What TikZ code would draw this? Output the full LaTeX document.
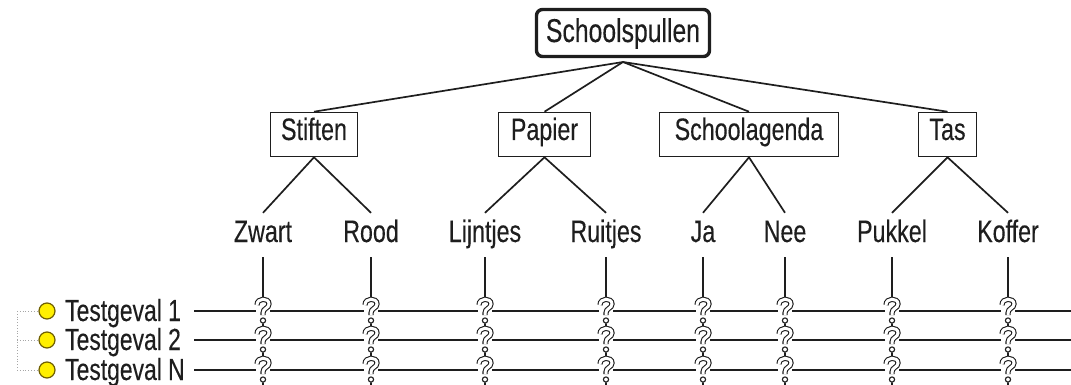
\documentclass[tikz,border=0pt]{standalone}
\usepackage{fontspec}
\setmainfont{Liberation Sans}[FakeStretch=0.75, FakeBold=0.25]
\definecolor{ink}{HTML}{1E1E1E}
\definecolor{bulb}{HTML}{FFEF00}
\definecolor{bulbedge}{HTML}{6E5E00}
\tikzset{
  every node/.style={text=ink},
  rootbox/.style={draw=ink, line width=3.4pt, rounded corners=6pt, inner xsep=0pt, inner ysep=0pt,
    minimum height=47pt, text height=24pt, text depth=6pt, font=\fontsize{33}{38}\selectfont},
  catbox/.style={draw=ink, line width=1.6pt, inner xsep=0pt, inner ysep=0pt, minimum height=44pt,
    text height=22pt, text depth=11pt, font=\fontsize{31}{36}\selectfont},
  leaf/.style={inner xsep=0pt, inner ysep=7pt, text height=22pt, text depth=8pt,
    font=\fontsize{31}{36}\selectfont},
  link/.style={draw=ink, line width=1.7pt},
  rowline/.style={draw=ink, line width=2pt},
  tclabel/.style={anchor=base west, inner sep=0pt, font=\fontsize{30.5}{34}\selectfont},
  bulbnode/.style={circle, fill=bulb, draw=bulbedge, line width=1.2pt, minimum size=16pt, inner sep=0pt},
  treeline/.style={draw=gray!70, dotted, line width=0.8pt},
  qline/.style={draw=ink, line width=1.1pt, double=white, double distance=3pt},
  qmark/.pic={
    \fill[white] (0,0) ellipse [x radius=7pt, y radius=12.5pt];
    \draw[qline] (-6,-6) .. controls (-6,-13.5) and (6,-13.5) .. (6,-7)
                         .. controls (6,-2.5) and (0,-3) .. (0,2) -- (0,4);
    \draw[draw=ink, fill=white, line width=1.1pt] (0,9.5) circle [radius=2.6pt];
  }
}
\begin{document}
\begin{tikzpicture}[x=1pt, y=-1pt]
\useasboundingbox (0,0) rectangle (1071,385);

% root
\node[rootbox, minimum width=173pt] (root) at (623,33) {Schoolspullen};
\coordinate (hub) at (623,62);

% categories
\node[catbox, minimum width=87pt]  (stiften) at (314,134.5) {Stiften};
\node[catbox, minimum width=92pt]  (papier)  at (544.5,134.5) {Papier};
\node[catbox, minimum width=179pt] (agenda)  at (749,134.5) {Schoolagenda};
\node[catbox, minimum width=58pt]  (tas)     at (947.5,134.5) {Tas};

\foreach \c in {stiften,papier,agenda,tas}
  \draw[link] (hub) -- (\c.north);

% leaves
\node[leaf] (zwart)    at (263,235) {Zwart};
\node[leaf] (rood)     at (371,235) {Rood};
\node[leaf] (lijntjes) at (485,235) {Lijntjes};
\node[leaf] (ruitjes)  at (606,235) {Ruitjes};
\node[leaf] (ja)       at (703,235) {Ja};
\node[leaf] (nee)      at (785,235) {Nee};
\node[leaf] (pukkel)   at (892,235) {Pukkel};
\node[leaf] (koffer)   at (1008,235) {Koffer};

\draw[link] (zwart.north) -- (stiften.south) -- (rood.north);
\draw[link] (lijntjes.north) -- (papier.south) -- (ruitjes.north);
\draw[link] (ja.north) -- (agenda.south) -- (nee.north);
\draw[link] (pukkel.north) -- (tas.south) -- (koffer.north);

% test cases
\coordinate (bottom) at (0,385);
\coordinate (r1s) at (194,311); \coordinate (r1e) at (1071,311);
\coordinate (r2s) at (194,340); \coordinate (r2e) at (1071,340);
\coordinate (r3s) at (194,370); \coordinate (r3e) at (1071,370);

\node[bulbnode] (b1) at (47,311) {};
\node[bulbnode] (b2) at (47,340) {};
\node[bulbnode] (b3) at (47,370) {};
\node[tclabel] (t1) at (65,321) {Testgeval 1};
\node[tclabel] (t2) at (65,350) {Testgeval 2};
\node[tclabel] (t3) at (65,380) {Testgeval N};

\coordinate (tt) at (17,311);
\coordinate (tb) at (17,370);
\draw[treeline] (tt) -- (tb);
\draw[treeline] (tt) -- (b1.west);
\draw[treeline] (tt |- b2) -- (b2.west);
\draw[treeline] (tb) -- (b3.west);

\foreach \r in {1,2,3}
  \draw[rowline] (r\r s) -- (r\r e);

\foreach \l in {zwart,rood,lijntjes,ruitjes,ja,nee,pukkel,koffer}{
  \draw[rowline] (\l.south) -- (\l.south |- bottom);
  \foreach \r in {1,2,3}
    \pic at (\l |- r\r s) {qmark};
}
\end{tikzpicture}
\end{document}
